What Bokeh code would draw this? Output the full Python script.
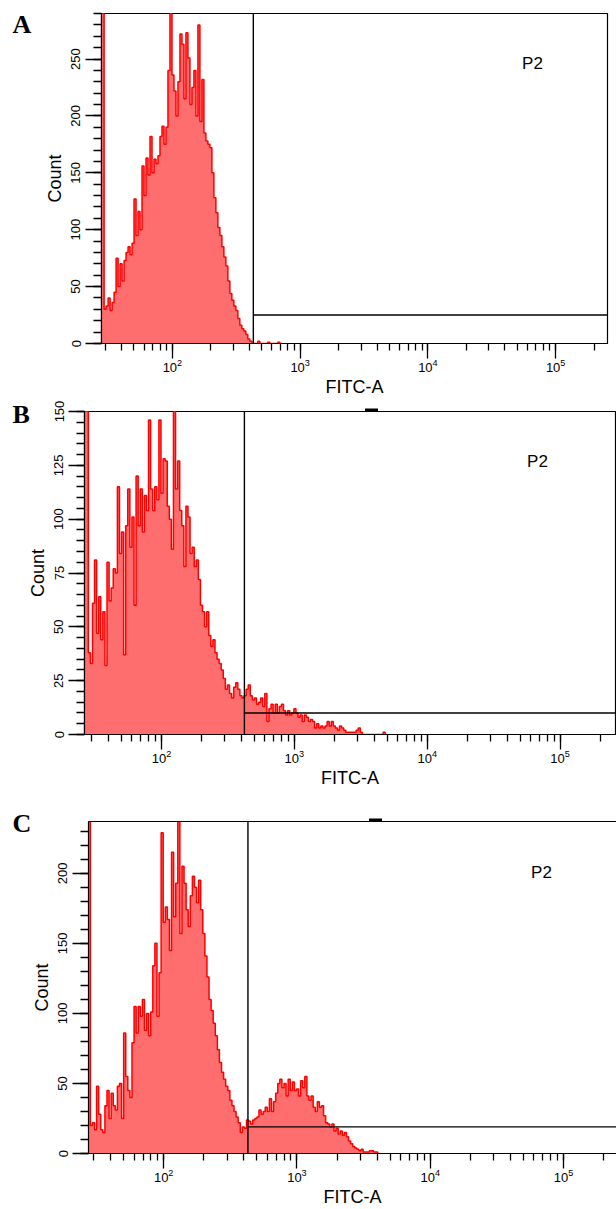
import numpy as np
from bokeh.plotting import figure
from bokeh.models import Range1d, SingleIntervalTicker, LogTicker, Label, LinearAxis, FixedTicker
from bokeh.embed import file_html
from bokeh.resources import INLINE

# ---------------- data ----------------
# Histogram bins: 64 bins per decade, starting at 26.2144 (10^1.4185)
BIN_START = 26.2144
BINS_PER_DECADE = 64

counts_A = [600, 600, 600, 30, 33, 40, 29, 36, 45, 75,
            50, 70, 55, 73, 80, 85, 78, 88, 127, 95,
            116, 100, 156, 130, 163, 148, 182, 150, 162, 158,
            165, 182, 191, 175, 190, 240, 320, 236, 222, 200,
            230, 272, 263, 215, 273, 251, 210, 225, 240, 200,
            280, 195, 232, 185, 178, 175, 172, 150, 128, 115,
            102, 95, 85, 76, 68, 55, 44, 38, 33, 29,
            22, 16, 13, 11, 8, 4, 2, 0, 0, 0,
            2, 0, 0, 0, 0, 1, 0, 0, 0, 0,
            1, 0]

counts_B = [400, 400, 38, 33, 61, 81, 47, 64, 44, 57,
            32, 80, 62, 68, 77, 75, 115, 84, 94, 37,
            97, 114, 87, 101, 60, 120, 97, 114, 94, 111,
            104, 146, 114, 104, 115, 109, 146, 112, 128, 127,
            106, 100, 86, 170, 114, 127, 104, 97, 78, 106,
            101, 84, 87, 78, 81, 72, 60, 57, 50, 57,
            46, 41, 44, 38, 35, 33, 30, 26, 21, 23,
            19, 17, 22, 24, 21, 18, 17, 18, 21, 23,
            18, 16, 17, 14, 15, 17, 13, 19, 6, 12,
            14, 10, 14, 10, 13, 14, 11, 9, 11, 9,
            10, 12, 10, 8, 9, 6, 9, 8, 6, 7,
            6, 3, 5, 3, 4, 3, 4, 6, 4, 6,
            4, 3, 2, 4, 3, 2, 1, 1, 1, 1,
            1, 2, 3, 1, 0, 0, 0, 0, 0, 0,
            0, 0, 0, 0, 1, 0]

counts_C = [400, 400, 20, 22, 17, 48, 28, 17, 15, 34,
            45, 25, 43, 34, 31, 48, 50, 25, 86, 55,
            45, 40, 79, 105, 86, 105, 98, 110, 88, 100,
            84, 101, 134, 150, 98, 129, 229, 165, 176, 167,
            145, 215, 169, 193, 250, 157, 205, 193, 174, 162,
            184, 198, 190, 179, 195, 174, 157, 141, 126, 110,
            102, 93, 84, 74, 65, 58, 53, 48, 45, 38,
            34, 30, 26, 22, 15, 19, 18, 24, 23, 21,
            24, 25, 26, 31, 28, 30, 33, 30, 39, 30,
            37, 43, 50, 53, 47, 50, 41, 53, 45, 51,
            45, 46, 41, 52, 47, 55, 41, 38, 41, 33,
            30, 37, 33, 34, 27, 22, 21, 19, 21, 16,
            18, 14, 16, 13, 15, 12, 9, 7, 5, 4,
            3, 2, 3, 1, 1, 1, 2, 2, 1, 1,
            0]

y_max = {"A": 290, "B": 150, "C": 237}
y_tick_step = {"A": 50, "B": 25, "C": 50}
gate_low = {"A": 430, "B": 421, "C": 429}       # P2 gate lower bound (FITC-A)
gate_level = {"A": 25, "B": 10, "C": 19}        # P2 marker height (Count)
top_marker = {"A": None, "B": 3840, "C": 3880}  # small handle mark on top border
x_log_range = {"A": (1.445, 5.406), "B": (1.421, 5.417), "C": (1.436, 5.398)}
panel_letters = {"A": "A", "B": "B", "C": "C"}
gate_name = "P2"
x_title = "FITC-A"
y_title = "Count"

FILL = "#ff6e6e"
EDGE = "#ff0000"
FONT = "Liberation Sans"


def make_panel(key, counts, height, bl, br, bt, bb, letter_pos, p2_pos, right_outline=True):
    lo, hi = x_log_range[key]
    p = figure(width=616, height=height, x_axis_type="log",
               x_range=Range1d(10 ** lo, 10 ** hi), y_range=Range1d(0, y_max[key]),
               output_backend="svg", toolbar_location=None,
               min_border_left=bl, min_border_right=br, min_border_top=bt, min_border_bottom=bb)
    p.xgrid.visible = False
    p.ygrid.visible = False
    p.background_fill_color = "white"
    p.border_fill_color = "white"
    if right_outline:
        p.outline_line_color = "black"
        p.outline_line_width = 1.2
        p.outline_line_alpha = 1.0
    else:
        p.outline_line_color = None

    n = len(counts)
    edges = BIN_START * 10 ** (np.arange(n + 1) / BINS_PER_DECADE)
    ys = list(counts) + [counts[-1]]
    p.varea_step(x=list(edges), y1=[0] * (n + 1), y2=ys, step_mode="after", fill_color=FILL)
    p.step(x=list(edges), y=ys, mode="after", line_color=EDGE, line_width=1.5)

    # P2 gate
    p.segment(x0=[gate_low[key]], y0=[0], x1=[gate_low[key]], y1=[y_max[key]],
              line_color="black", line_width=1.4)
    p.segment(x0=[gate_low[key]], y0=[gate_level[key]], x1=[10 ** hi * 1.5], y1=[gate_level[key]],
              line_color="black", line_width=1.4)

    xa = p.below[0]
    xa.ticker = LogTicker(num_minor_ticks=10)
    xa.major_tick_out = 15
    xa.minor_tick_out = 7
    xa.major_label_standoff = 0
    xa.axis_label = x_title
    xa.axis_label_standoff = 2

    ya = p.left[0]
    ya.ticker = SingleIntervalTicker(interval=y_tick_step[key], num_minor_ticks=5)
    ya.major_tick_out = 16
    ya.minor_tick_out = 8
    ya.major_label_orientation = "vertical"
    ya.major_label_standoff = 5
    ya.axis_label = y_title
    ya.axis_label_standoff = 4

    for ax in (xa, ya):
        ax.axis_line_color = "black"
        ax.axis_line_width = 1.2
        ax.major_tick_line_color = "black"
        ax.minor_tick_line_color = "black"
        ax.major_tick_line_width = 1.3
        ax.minor_tick_line_width = 1.3
        ax.major_tick_in = 0
        ax.minor_tick_in = 0
        ax.major_label_text_font = FONT
        ax.major_label_text_font_size = "13px"
        ax.major_label_text_color = "black"
        ax.axis_label_text_font = FONT
        ax.axis_label_text_font_size = "18px"
        ax.axis_label_text_font_style = "normal"
        ax.axis_label_text_color = "black"

    marker = top_marker[key]
    if (not right_outline) or marker is not None:
        top = LinearAxis(ticker=FixedTicker(ticks=[marker] if marker else []),
                         axis_line_color="black" if not right_outline else None,
                         axis_line_width=1.2,
                         major_tick_line_color="black", major_tick_line_width=13,
                         major_tick_out=3, major_tick_in=0,
                         minor_tick_line_color=None, minor_tick_out=0,
                         major_label_text_font_size="1px", major_label_text_color=None,
                         major_label_standoff=0)
        p.add_layout(top, "above")

    p.add_layout(Label(x=letter_pos[0], y=letter_pos[1], x_units="screen", y_units="screen",
                       text=panel_letters[key], text_font="Liberation Serif",
                       text_font_style="bold", text_font_size="26px", text_color="black",
                       text_align="left", text_baseline="alphabetic"), "left")
    p.add_layout(Label(x=p2_pos[0], y=p2_pos[1], x_units="screen", y_units="screen",
                       text=gate_name, text_font=FONT, text_font_size="17px", text_color="black",
                       text_align="center", text_baseline="middle"))
    return p


pA = make_panel("A", counts_A, 400, 101, 9, 13, 57, (-10, 319), (431, 280))
pB = make_panel("B", counts_B, 395, 84, 1, 11, 61, (5, 320), (453, 273))
pC = make_panel("C", counts_C, 414, 88, 0, 26, 56, (3, 330), (453, 281), right_outline=False)

# three independent roots, stacked on the page (keeps each frame at its own position)
open("out.html", "w").write(file_html([pA, pB, pC], INLINE))
